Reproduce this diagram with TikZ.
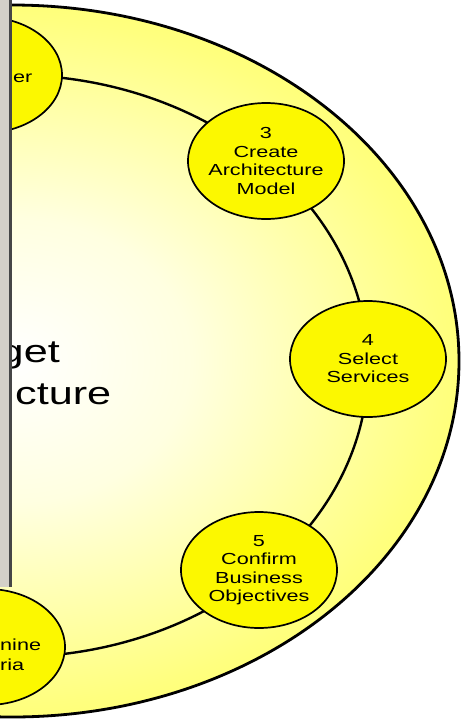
\documentclass[tikz,border=0pt]{standalone}
\usepackage{fontspec}
\setmainfont{Liberation Sans}
\newfontfamily\widesans[FakeStretch=1.35]{Liberation Sans}
\usetikzlibrary{shapes.geometric, positioning}

\definecolor{bandyellow}{RGB}{255,255,60}
\definecolor{phaseyellow}{RGB}{252,248,0}
\definecolor{wingray}{RGB}{212,208,200}
\definecolor{windark}{RGB}{70,70,70}

\pgfdeclareradialshading{glow}{\pgfpoint{0bp}{0bp}}{%
  color(0bp)=(white); color(10bp)=(yellow!12!white);
  color(24bp)=(yellow!50!white); color(37bp)=(bandyellow);
  color(50bp)=(bandyellow)}

\tikzset{
  phase/.style={ellipse, draw, line width=1.7pt, fill=phaseyellow,
                minimum width=156pt, minimum height=116pt, inner sep=-16pt,
                align=center, font=\widesans\fontsize{16}{18.5}\selectfont},
  frag/.style={inner sep=0pt, anchor=base west,
               font=\widesans\fontsize{16}{18.5}\selectfont},
  bigfrag/.style={frag, font=\widesans\fontsize{32}{40}\selectfont},
  track/.style={line width=2.4pt},
  rim/.style={line width=2.8pt},
}

\begin{document}
\begin{tikzpicture}[x=1pt, y=-1pt]
  \useasboundingbox (0,0) rectangle (463,721);
  \clip (0,0) rectangle (463,721);
  \fill[white] (0,0) rectangle (463,721);

  % outer disc and the ring of phases
  \shadedraw[shading=glow, rim] (12,361) ellipse [x radius=447pt, y radius=356pt];
  \draw[track] (12,366) ellipse [x radius=356pt, y radius=291pt];

  \node[phase] (stake)    at (-16,75)  {};
  \node[phase] (model)    at (266,161) {3\\Create\\Architecture\\Model};
  \node[phase] (services) at (368,359) {4\\Select\\Services};
  \node[phase] (confirm)  at (259,570) {5\\Confirm\\Business\\Objectives};
  \node[phase] (criteria) at (-13,647) {};

  % text left over beside the window
  \node[frag]    (stakeend)  at (13,82)  {er};
  \node[bigfrag, anchor=base east] (targetend) at (60,362) {get};
  \node[bigfrag] (archend)   at (15,404) {cture};
  \node[frag]    (critend)   at (0,650)  {nine};
  \node[frag]    (critend2)  at (0,670)  {ria};

  % window edge on the left
  \fill[wingray] (0,0) rectangle (9,587);
  \draw[windark, line width=3pt] (10.5,0) -- (10.5,587);
\end{tikzpicture}
\end{document}
